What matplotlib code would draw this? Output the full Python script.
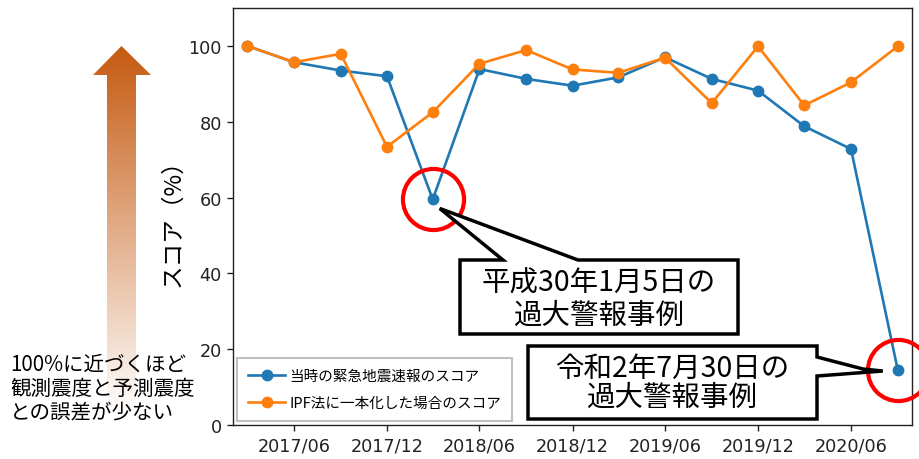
import numpy as np
import matplotlib
matplotlib.use('Agg')
import matplotlib.pyplot as plt
import matplotlib.dates as mdates
from matplotlib.patches import Polygon
from datetime import datetime, timedelta

plt.rcParams['font.family'] = ['DejaVu Sans', 'Noto Sans CJK JP']
JP = ['Noto Sans CJK JP', 'DejaVu Sans']

# 四半期ごとのスコア (%)
months = ['2017-03', '2017-06', '2017-09', '2017-12', '2018-03', '2018-06', '2018-09', '2018-12',
          '2019-03', '2019-06', '2019-09', '2019-12', '2020-03', '2020-06', '2020-09']
score_jma = [100, 95.7, 93.5, 92.0, 59.5, 93.9, 91.3, 89.5, 91.7, 97.0, 91.3, 88.2, 78.8, 72.8, 14.5]
score_ipf = [100, 95.7, 97.9, 73.4, 82.5, 95.3, 98.9, 93.8, 92.9, 96.9, 84.9, 99.9, 84.3, 90.4, 99.9]
label_jma = '当時の緊急地震速報のスコア'
label_ipf = 'IPF法に一本化した場合のスコア'
highlight_idx = [4, 14]
callout_texts = ['平成30年1月5日の\n過大警報事例', '令和2年7月30日の\n過大警報事例']
side_note = '100%に近づくほど\n観測震度と予測震度\nとの誤差が少ない'

dates = [datetime.strptime(m, '%Y-%m') for m in months]

W, H = 920, 460
fig = plt.figure(figsize=(W / 100, H / 100), dpi=100)
ax = fig.add_axes([233 / W, 34 / H, 679 / W, 417 / H])

ax.plot(dates, score_jma, '-o', color='#1f77b4', lw=1.9, ms=7.5, label=label_jma)
ax.plot(dates, score_ipf, '-o', color='#ff7f0e', lw=1.9, ms=7.5, label=label_ipf)

ax.set_ylim(0, 110)
ax.set_yticks(range(0, 101, 20))
ax.set_xlim(dates[0] - timedelta(days=28), dates[-1] + timedelta(days=28))
ax.xaxis.set_major_locator(mdates.MonthLocator(bymonth=[6, 12]))
ax.xaxis.set_major_formatter(mdates.DateFormatter('%Y/%m'))
ax.tick_params(labelsize=12.7, length=4.5, width=1.0, colors='#222222')
for s in ax.spines.values():
    s.set_linewidth(1.0)
    s.set_color('#222222')
ax.set_ylabel('スコア（%）', family=JP, fontsize=17, labelpad=3)

leg = ax.legend(loc='lower left', prop={'family': JP, 'size': 10.5}, handlelength=2.5,
                handletextpad=0.3, labelspacing=0.85, borderpad=0.75, borderaxespad=0.3,
                fancybox=False, edgecolor='#c0c0c0', framealpha=1)
leg.get_frame().set_linewidth(1.5)

# 赤丸（過大警報事例）
ax.plot([dates[i] for i in highlight_idx], [score_jma[i] for i in highlight_idx], 'o',
        ms=44, mfc='none', mec='red', mew=3, clip_on=False, zorder=5)

# ---- 重ね描き用の座標系（画像ピクセル） ----
ov = fig.add_axes([0, 0, 1, 1])

# グラデーション矢印
top = np.array([197, 90, 17]) / 255
grad = np.linspace(0, 1, 256)[:, None, None]
img = top + (1 - top) * grad
im = ov.imshow(img, extent=(93, 151, 415, 47), aspect='auto', zorder=1)
arrow = Polygon([(121.5, 47), (151, 76), (136, 76), (136, 415), (107, 415), (107, 76), (93, 76)],
                closed=True, fc='none', ec='none')
ov.add_patch(arrow)
im.set_clip_path(arrow)

ov.set_xlim(0, W)
ov.set_ylim(H, 0)
ov.axis('off')

ov.text(10, 354, side_note, family=JP, fontsize=14.8, ha='left', va='top', linespacing=1.1, zorder=3)


def to_img(i):
    px, py = ax.transData.transform((mdates.date2num(dates[i]), score_jma[i]))
    return px, H - py


# 吹き出し1
tx, ty = to_img(highlight_idx[0])
tip = (tx + 7, ty + 9)
box = (460, 261, 738, 335)
ov.add_patch(Polygon([(box[0], box[1]), (503, box[1]), tip, (578, box[1]), (box[2], box[1]),
                      (box[2], box[3]), (box[0], box[3])], closed=True,
                     fc='white', ec='black', lw=2.5, joinstyle='miter', zorder=4))
ov.text((box[0] + box[2]) / 2, (box[1] + box[3]) / 2 + 2, callout_texts[0], family=JP,
        fontsize=20.5, ha='center', va='center', linespacing=1.1, zorder=5)

# 吹き出し2
tx, ty = to_img(highlight_idx[1])
tip = (tx - 15, ty + 1)
box = (528, 347, 817, 420)
ov.add_patch(Polygon([(box[0], box[1]), (box[2], box[1]), (box[2], 358), (863, 370), tip,
                      (box[2], 377), (box[2], box[3]), (box[0], box[3])], closed=True,
                     fc='white', ec='black', lw=2.5, joinstyle='miter', zorder=4))
ov.text((box[0] + box[2]) / 2, (box[1] + box[3]) / 2, callout_texts[1], family=JP,
        fontsize=20.5, ha='center', va='center', linespacing=0.95, zorder=5)

fig.savefig('out.png', dpi=100)
plt.close(fig)
